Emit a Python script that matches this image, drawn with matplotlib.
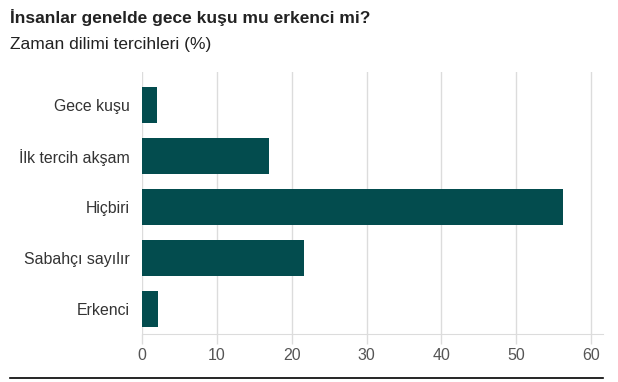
import matplotlib.pyplot as plt
import numpy as np

## Data
categories = ["Gece kuşu", "İlk tercih akşam", "Hiçbiri", "Sabahçı sayılır", "Erkenci"]
values = [2.0, 17.0, 56.3, 21.7, 2.2]
x_ticks = [0, 10, 20, 30, 40, 50, 60]

title = "İnsanlar genelde gece kuşu mu erkenci mi?"
subtitle = "Zaman dilimi tercihleri (%)"

bar_color = "#034c4e"
grid_color = "#dcdcdc"

plt.rcParams["font.family"] = ["Liberation Sans", "DejaVu Sans"]

fig = plt.figure(figsize=(6.18, 3.82), dpi=100)
ax = fig.add_axes([142 / 618, 1 - 334 / 382, (603 - 142) / 618, (334 - 72) / 382])

y = np.arange(len(categories))
ax.barh(y, values, height=0.71, color=bar_color, zorder=3)

ax.set_xlim(0, 61.6)
ax.set_ylim(4.49, -0.65)
ax.set_yticks(y)
ax.set_yticklabels(categories, fontsize=11.4, color="#333333")
ax.set_xticks(x_ticks)
ax.set_xticklabels([str(t) for t in x_ticks], fontsize=11.5, color="#555555")
ax.tick_params(axis="y", length=0, pad=9)
ax.tick_params(axis="x", length=7, width=1, color=grid_color, pad=3)
ax.grid(axis="x", color=grid_color, linewidth=1, zorder=0)

for side in ["top", "right", "left"]:
    ax.spines[side].set_visible(False)
ax.spines["bottom"].set_color(grid_color)

fig.text(10 / 618, 1 - 17 / 382, title, fontsize=12.5, fontweight="bold",
         color="#222222", va="center", ha="left")
fig.text(10 / 618, 1 - 45 / 382, subtitle, fontsize=12.5, color="#222222",
         va="center", ha="left")

# bottom rule under the chart
fig.add_artist(plt.Line2D([10 / 618, 603 / 618], [1 - 378 / 382, 1 - 378 / 382],
                          color="black", linewidth=1.2, transform=fig.transFigure))

fig.savefig("out.png", dpi=100)
